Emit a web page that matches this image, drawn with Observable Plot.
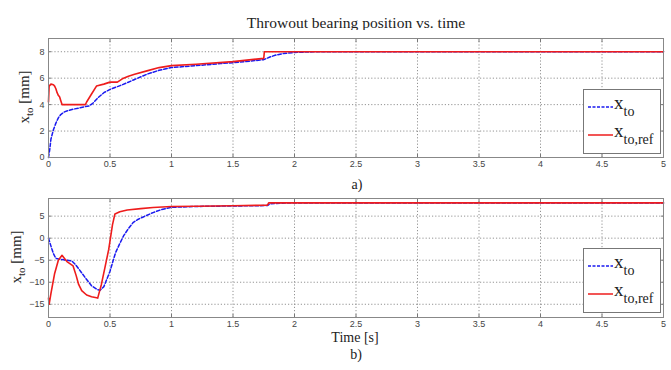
<!DOCTYPE html>
<html><head><meta charset="utf-8">
<script src="https://cdn.jsdelivr.net/npm/d3@7"></script>
<script src="https://cdn.jsdelivr.net/npm/@observablehq/plot@0.6"></script>
<style>
body{margin:0;background:#fff;}
#wrap{position:relative;width:671px;height:370px;background:#fff;overflow:hidden;font-family:"Liberation Serif","Times New Roman",serif;}
.abs{position:absolute;}
.ser{font-family:"Liberation Serif","Times New Roman",serif;color:#222;white-space:nowrap;}
.ylab{transform:translate(-50%,-50%) rotate(-90deg);font-size:15px;}
.legend{border:1px solid #777;background:#fff;box-sizing:border-box;}
.legend .row{position:absolute;left:4px;display:flex;align-items:center;}
.legend .lbl{font-size:19px;line-height:19px;margin-left:1px;}
.legend sub{font-size:14px;vertical-align:-7px;}
</style></head>
<body><div id="wrap"></div>
<script>
// ---- data ----
const xTicks = [0,0.5,1,1.5,2,2.5,3,3.5,4,4.5,5];
const yTicksA = [0,2,4,6,8];
const yTicksB = [-15,-10,-5,0,5];

// panel a) x_to (blue dashed)
const aT_to  = [0,0.01,0.02,0.04,0.06,0.08,0.1,0.13,0.16,0.2,0.25,0.3,0.33,0.36,0.4,0.45,0.5,0.6,0.7,0.8,0.9,1.0,1.2,1.4,1.6,1.75,1.8,1.85,1.9,2.0,2.2,5];
const aV_to  = [0,0.6,1.4,2.1,2.6,3.0,3.25,3.45,3.55,3.65,3.75,3.85,3.9,4.1,4.5,4.9,5.15,5.5,5.9,6.3,6.6,6.8,6.95,7.1,7.25,7.4,7.6,7.75,7.85,7.95,8.0,8.0];
// panel a) x_to,ref (red)
const aT_ref = [0,0.005,0.02,0.04,0.05,0.06,0.07,0.08,0.09,0.1,0.11,0.3,0.31,0.35,0.39,0.45,0.5,0.56,0.6,0.65,0.7,0.8,0.9,1.0,1.2,1.5,1.75,1.755,5];
const aV_ref = [4.2,5.4,5.55,5.5,5.4,5.2,4.9,4.7,4.6,4.3,4.0,4.0,4.2,4.8,5.4,5.55,5.7,5.7,5.95,6.15,6.3,6.55,6.8,6.95,7.05,7.25,7.5,8.0,8.0];

// panel b) x_to (blue dashed)
const bT_to  = [0,0.02,0.04,0.06,0.1,0.15,0.19,0.22,0.26,0.3,0.35,0.4,0.42,0.45,0.5,0.545,0.58,0.61,0.65,0.69,0.73,0.77,0.85,0.92,1.0,1.2,1.5,1.78,1.8,1.9,2.0,5];
const bV_to  = [0,-1.8,-3.5,-4.6,-4.8,-5.0,-5.2,-6.0,-7.5,-9.0,-10.8,-11.7,-11.8,-11.0,-7.5,-3.3,-1.2,0.5,2.2,3.6,4.3,4.8,5.8,6.5,7.0,7.2,7.3,7.4,7.8,7.95,8.0,8.0];
// panel b) x_to,ref (red)
const bT_ref = [0,0.005,0.02,0.05,0.08,0.11,0.13,0.15,0.2,0.225,0.245,0.27,0.31,0.35,0.39,0.4,0.43,0.46,0.49,0.52,0.54,0.58,0.64,0.75,0.85,1.0,1.2,1.5,1.78,1.79,5];
const bV_ref = [-13.6,-15,-12.5,-8.0,-5.0,-3.9,-4.6,-5.3,-6.3,-8.5,-10.5,-11.9,-12.9,-13.3,-13.5,-13.6,-10.5,-6.5,-2.5,3.0,5.5,6.0,6.4,6.7,6.95,7.2,7.25,7.35,7.5,8.0,8.0];

const blue = "#1a1af0", red = "#ee1c1c";
const W = 671;

function panel(tTo, vTo, tRef, vRef, yDomain, yTicks){
  const toData = tTo.map((t,i)=>({t, v:vTo[i]}));
  const refData = tRef.map((t,i)=>({t, v:vRef[i]}));
  return Plot.plot({
    width: W, height: 150,
    marginLeft: 48, marginRight: 8, marginTop: 8, marginBottom: 23,
    style: {fontFamily: "Liberation Sans, Arial, sans-serif", fontSize: "9px", color: "#444", background: "#fff"},
    x: {domain: [0,5]},
    y: {domain: yDomain},
    marks: [
      Plot.gridX(xTicks, {stroke: "#777", strokeOpacity: 1, strokeDasharray: "1.2,2", strokeWidth: 0.8}),
      Plot.gridY(yTicks, {stroke: "#777", strokeOpacity: 1, strokeDasharray: "1.2,2", strokeWidth: 0.8}),
      Plot.axisX({ticks: xTicks, tickSize: -3, tickPadding: 6, stroke: "#777", label: null, tickFormat: d => String(d)}),
      Plot.axisX({ticks: xTicks, anchor: "top", tickSize: -3, stroke: "#777", label: null, tickFormat: () => ""}),
      Plot.axisY({ticks: yTicks, tickSize: -3, tickPadding: 7, stroke: "#777", label: null}),
      Plot.axisY({ticks: yTicks, anchor: "right", tickSize: -3, stroke: "#777", label: null, tickFormat: () => ""}),
      Plot.line(toData, {x: "t", y: "v", stroke: blue, strokeWidth: 1.5, strokeDasharray: "3.5,2"}),
      Plot.line(refData, {x: "t", y: "v", stroke: red, strokeWidth: 1.6}),
      Plot.frame({stroke: "#888", strokeWidth: 1})
    ]
  });
}

const wrap = document.getElementById("wrap");
function addAbs(el, left, top){ el.classList.add("abs"); el.style.left = left+"px"; el.style.top = top+"px"; wrap.appendChild(el); return el; }
function div(html, cls){ const d = document.createElement("div"); d.className = cls||""; d.innerHTML = html; return d; }

// title
const title = div("Throwout bearing position vs. time", "ser");
title.style.fontSize = "15.5px"; title.style.transform = "translate(-50%,-50%)";
addAbs(title, 356, 23);

// panels
const pA = panel(aT_to, aV_to, aT_ref, aV_ref, [0,9], yTicksA);
addAbs(pA, 0, 30);
const pB = panel(bT_to, bV_to, bT_ref, bV_ref, [-18,9], yTicksB);
addAbs(pB, 0, 190);

// y labels
const yl1 = div("x<sub style='font-size:11px'>to</sub> [mm]", "ser ylab"); addAbs(yl1, 25, 97);
const yl2 = div("x<sub style='font-size:11px'>to</sub> [mm]", "ser ylab"); addAbs(yl2, 17, 257);

// captions
const ca = div("a)", "ser"); ca.style.fontSize = "14px"; ca.style.transform = "translate(-50%,-50%)"; addAbs(ca, 357, 185);
const xl = div("Time [s]", "ser"); xl.style.fontSize = "14px"; xl.style.transform = "translate(-50%,-50%)"; addAbs(xl, 355, 338);
const cb = div("b)", "ser"); cb.style.fontSize = "14px"; cb.style.transform = "translate(-50%,-50%)"; addAbs(cb, 356, 355);

// legends
const legendItems = [
  {name: "x", sub: "to", color: blue, dash: "3,1.5"},
  {name: "x", sub: "to,ref", color: red, dash: null}
];
function legend(left, top){
  const box = div("", "legend"); box.style.width = "78px"; box.style.height = "65px";
  legendItems.forEach((it, i) => {
    const row = document.createElement("div"); row.className = "row";
    row.style.top = (3 + i*28) + "px";
    const sw = `<svg width="25" height="10"><line x1="0" x2="25" y1="5" y2="5" stroke="${it.color}" stroke-width="1.5" ${it.dash?`stroke-dasharray="${it.dash}"`:""}/></svg>`;
    row.innerHTML = sw + `<span class="lbl ser">${it.name}<sub>${it.sub}</sub></span>`;
    box.appendChild(row);
  });
  addAbs(box, left, top);
}
legend(583, 89);
legend(583, 248);
</script></body></html>
